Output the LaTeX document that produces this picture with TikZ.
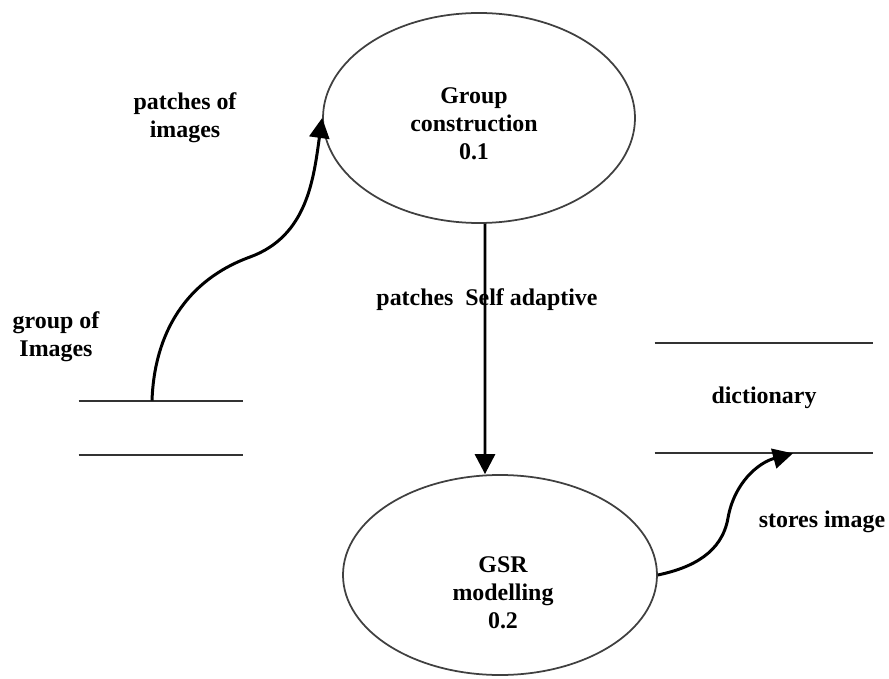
\documentclass[tikz,border=0pt]{standalone}
\usepackage{fontspec}
\setmainfont{Liberation Serif}
\usetikzlibrary{positioning, shapes.geometric, arrows.meta, calc}

\begin{document}
\begin{tikzpicture}[
  >={Triangle[length=0.4cm, width=0.4cm]},
  every node/.style={font=\fontsize{13.6}{15.9}\selectfont\bfseries, align=center},
  process/.style={draw=black!75, line width=1pt, ellipse, inner sep=0pt},
  store/.style={minimum height=1.08cm, inner sep=0pt,
    append after command={
      (\tikzlastnode.north west) edge[draw=black!80, line width=1.1pt] (\tikzlastnode.north east)
      (\tikzlastnode.south west) edge[draw=black!80, line width=1.1pt] (\tikzlastnode.south east)}},
  flow/.style={->, line width=1.7pt}
]
\useasboundingbox (0,0) rectangle (17.78,13.56);

% Processes
\node[process, minimum width=6.24cm, minimum height=4.2cm] (grp) at (9.58, 11.2) {};
\node (grp-text) at (9.48, 11.09) {Group\\construction\\0.1};
\node[process, minimum width=6.28cm, minimum height=4.0cm] (gsr) at (10.0, 2.06) {};
\node (gsr-text) at (10.06, 1.7) {GSR\\modelling\\0.2};

% Data stores
\node[store, minimum width=3.28cm] (imgs) at (3.22, 5.0) {};
\node[store, minimum width=4.36cm, minimum height=2.2cm] (dict) at (15.28, 5.6) {dictionary};

% Flows
\coordinate (bend1) at (5.0, 8.42);
\draw[flow] ([xshift=-0.18cm]imgs.north) to[out=88, in=200] (bend1)
  to[out=20, in=-98] (grp.west);
\draw[flow] ([xshift=0.12cm]grp.south) -- ([xshift=-0.3cm]gsr.north);
\coordinate (bend2) at (14.56, 3.2);
\draw[flow] (gsr.east) to[out=12, in=-100] (bend2)
  to[out=80, in=195] ([xshift=0.58cm]dict.south);

% Flow labels
\node (imgs-label) at (1.12, 6.82) {group of\\Images};
\node (patch-label) at (3.7, 11.2) {patches of\\images};
\node (adapt-label) at (9.74, 7.56) {patches\ \ Self adaptive};
\node (stores-label) at (16.44, 3.12) {stores\ image};

\end{tikzpicture}
\end{document}
